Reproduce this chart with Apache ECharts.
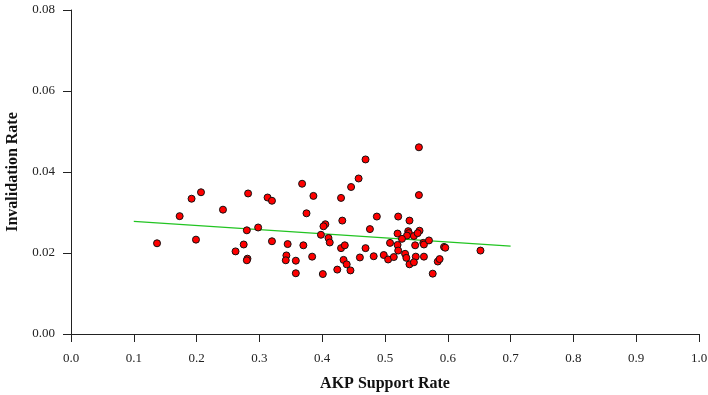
<!DOCTYPE html>
<html>
<head>
<meta charset="utf-8">
<script src="https://cdn.jsdelivr.net/npm/echarts@6/dist/echarts.min.js"></script>
<style>
  html, body { margin: 0; padding: 0; background: #fff; }
  #main { width: 708px; height: 395px; }
</style>
</head>
<body>
<div id="main"></div>
<script>
// AKP support rate (x) vs invalidation rate (y)
let akpSupport = [
  0.207, 0.192, 0.173, 0.137, 0.199, 0.242, 0.282, 0.313, 0.320, 0.280,
  0.298, 0.275, 0.262, 0.281, 0.280, 0.320,
  0.368, 0.386, 0.430, 0.446, 0.458, 0.375, 0.405, 0.402, 0.432, 0.487,
  0.521, 0.476, 0.398, 0.410, 0.412, 0.345, 0.370, 0.343, 0.342, 0.358,
  0.358, 0.384, 0.401, 0.430, 0.436, 0.434, 0.439, 0.445, 0.424, 0.460,
  0.469, 0.482, 0.498, 0.505, 0.514, 0.508, 0.520, 0.520, 0.521,
  0.554, 0.554, 0.539, 0.537, 0.538, 0.535, 0.546, 0.555, 0.552, 0.527,
  0.548, 0.561, 0.562, 0.570, 0.594, 0.596, 0.652, 0.532, 0.534, 0.549,
  0.562, 0.539, 0.546, 0.584, 0.587, 0.576, 0.469
];
let invalidation = [
  0.0350, 0.0334, 0.0291, 0.0224, 0.0233, 0.0307, 0.0347, 0.0337, 0.0329, 0.0256,
  0.0263, 0.0221, 0.0204, 0.0186, 0.0182, 0.0229,
  0.0371, 0.0341, 0.0336, 0.0363, 0.0384, 0.0298, 0.0271, 0.0266, 0.0280, 0.0290,
  0.0290, 0.0259, 0.0245, 0.0237, 0.0226, 0.0222, 0.0219, 0.0194, 0.0182, 0.0181,
  0.0150, 0.0191, 0.0148, 0.0212, 0.0219, 0.0183, 0.0172, 0.0157, 0.0159, 0.0189,
  0.0212, 0.0192, 0.0195, 0.0184, 0.0190, 0.0225, 0.0248, 0.0220, 0.0206,
  0.0461, 0.0343, 0.0280, 0.0254, 0.0249, 0.0243, 0.0242, 0.0255, 0.0249, 0.0235,
  0.0219, 0.0225, 0.0221, 0.0231, 0.0215, 0.0213, 0.0206, 0.0198, 0.0188, 0.0191,
  0.0191, 0.0172, 0.0177, 0.0179, 0.0185, 0.0149, 0.0431
];
// fitted trend line end points
let fitX = [0.1, 0.7];
let fitY = [0.0278, 0.0217];

let points = akpSupport.map(function(x, i){ return [x, invalidation[i]]; });
let fitLine = fitX.map(function(x, i){ return [x, fitY[i]]; });

let font = 'Liberation Serif';
let axisCol = '#222';

let chart = echarts.init(document.getElementById('main'));
let option = {
  backgroundColor: '#fff',
  animation: false,
  grid: { left: 71, right: 9, top: 10, bottom: 61, containLabel: false, outerBoundsMode: 'none' },
  xAxis: {
    type: 'value',
    min: 0, max: 1, interval: 0.1,
    name: 'AKP Support Rate',
    nameLocation: 'middle',
    nameGap: 42,
    nameTextStyle: { fontFamily: font, fontWeight: 'bold', fontSize: 16, color: '#111' },
    axisLine: { onZero: false, lineStyle: { color: axisCol, width: 1 } },
    axisTick: { show: true, length: 8, lineStyle: { color: axisCol } },
    axisLabel: {
      margin: 18, fontFamily: font, fontSize: 13, color: '#222',
      formatter: function(v){ return v.toFixed(1); }
    },
    splitLine: { show: false }
  },
  yAxis: {
    type: 'value',
    min: 0, max: 0.08, interval: 0.02,
    name: 'Invalidation Rate',
    nameLocation: 'middle',
    nameGap: 40,
    nameTextStyle: { fontFamily: font, fontWeight: 'bold', fontSize: 16, color: '#111' },
    axisLine: { show: true, onZero: false, lineStyle: { color: axisCol, width: 1 } },
    axisTick: { show: true, length: 8, lineStyle: { color: axisCol } },
    axisLabel: {
      margin: 16, fontFamily: font, fontSize: 13, color: '#222',
      formatter: function(v){ return v.toFixed(2); }
    },
    splitLine: { show: false }
  },
  series: [
    {
      type: 'line',
      data: fitLine,
      symbol: 'none',
      lineStyle: { color: '#22c422', width: 1.2 },
      z: 1
    },
    {
      type: 'scatter',
      data: points,
      symbol: 'circle',
      symbolSize: 7,
      itemStyle: { color: '#ff0000', borderColor: '#111', borderWidth: 1, opacity: 1 },
      z: 2
    }
  ]
};
chart.setOption(option);
</script>
</body>
</html>
